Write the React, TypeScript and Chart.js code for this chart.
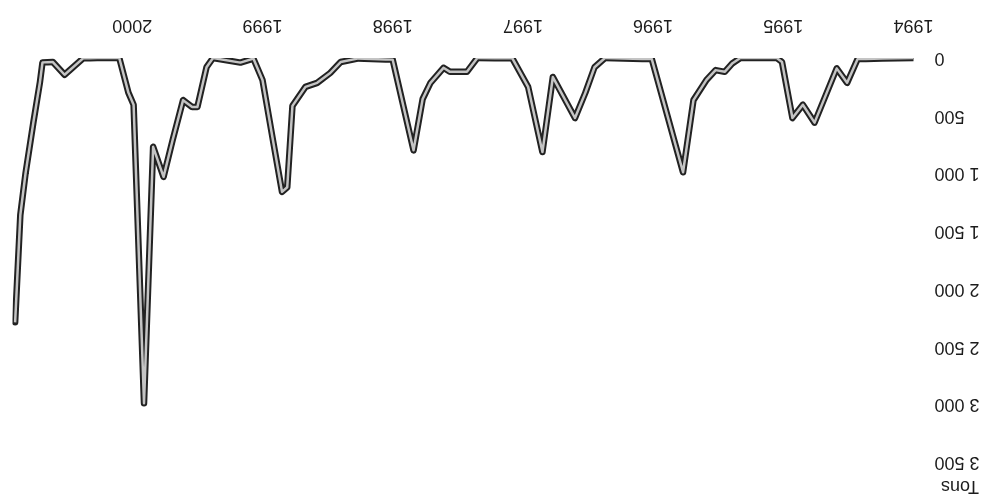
import { useEffect, useRef } from 'react';
import { Chart, registerables } from 'chart.js';

Chart.register(...registerables);

// Decimal year of each vertex of the line (Jan 1994 = 1994.0)
const pointYears = [
  1994.0, 1994.24, 1994.43, 1994.51, 1994.59, 1994.76, 1994.85, 1994.93,
  1995.01, 1995.05, 1995.33, 1995.39, 1995.45, 1995.52, 1995.59, 1995.69, 1995.77,
  1996.01, 1996.37, 1996.45, 1996.52, 1996.6, 1996.77, 1996.85, 1996.96,
  1997.08, 1997.35, 1997.43, 1997.56, 1997.61, 1997.71, 1997.77, 1997.84,
  1998.0, 1998.27, 1998.4, 1998.48, 1998.58, 1998.67, 1998.77, 1998.81, 1998.85, 1998.92,
  1999.0, 1999.07, 1999.17, 1999.38, 1999.43, 1999.5, 1999.54, 1999.61, 1999.69, 1999.76,
  1999.84, 1999.91, 1999.99, 2000.03, 2000.1, 2000.27, 2000.38, 2000.52, 2000.61, 2000.69,
  2000.71, 2000.76, 2000.82, 2000.86, 2000.9,
];

// Tons at each vertex
const pointTons = [
  0, 5, 10, 215, 90, 560, 405, 520,
  35, 0, 0, 45, 120, 105, 190, 365, 990,
  10, 0, 80, 300, 520, 165, 815, 250,
  5, 0, 120, 120, 85, 215, 355, 800,
  15, 5, 35, 130, 215, 250, 415, 1120, 1160, 710,
  190, 5, 40, 0, 80, 425, 425, 365, 710, 1030,
  770, 2990, 405, 300, 0, 0, 5, 145, 35, 40,
  215, 560, 1000, 1360, 2290,
];

const yearTicks = [1994, 1995, 1996, 1997, 1998, 1999, 2000];
const tonTicks = [0, 500, 1000, 1500, 2000, 2500, 3000, 3500];
const yAxisTitle = 'Tons';

const FONT = 'Liberation Sans, Arial, sans-serif';
const TEXT = '#1c1c1c';

function formatTons(v: number): string {
  return String(v).replace(/\B(?=(\d{3})+(?!\d))/g, ' ');
}

export default function App() {
  const ref = useRef<HTMLCanvasElement>(null);

  useEffect(() => {
    if (!ref.current) return;
    const data = pointYears.map((x, i) => ({ x, y: pointTons[i] }));
    const chart = new Chart(ref.current, {
      type: 'line',
      data: {
        datasets: [
          {
            data,
            borderColor: '#c4c4c4',
            borderWidth: 2.5,
            pointRadius: 0,
            tension: 0,
            borderJoinStyle: 'round',
            order: 0,
          },
          {
            data,
            borderColor: '#222222',
            borderWidth: 6.5,
            pointRadius: 0,
            tension: 0,
            borderJoinStyle: 'round',
            borderCapStyle: 'round',
            order: 1,
          },
        ],
      },
      options: {
        animation: false,
        responsive: true,
        maintainAspectRatio: false,
        layout: { padding: { left: 4, right: 12.5, top: 0, bottom: 0 } },
        plugins: {
          legend: { display: false },
          tooltip: { enabled: false },
          title: {
            display: true,
            text: yAxisTitle,
            align: 'start',
            color: TEXT,
            font: { family: FONT, size: 18, weight: 'normal' },
            padding: { top: 2, bottom: 13.4 },
          },
        },
        scales: {
          x: {
            type: 'linear',
            min: 1994,
            max: 2000.92,
            afterBuildTicks: (s: any) => {
              s.ticks = yearTicks.map((v) => ({ value: v }));
            },
            afterFit: (s: any) => {
              s.height = 58;
            },
            grid: { display: false, drawTicks: false },
            border: { display: false },
            ticks: {
              padding: 22,
              color: TEXT,
              font: { family: FONT, size: 18 },
              maxRotation: 0,
              autoSkip: false,
              callback: (v: any) => String(v),
            },
          },
          y: {
            type: 'linear',
            min: 0,
            max: 3500,
            afterBuildTicks: (s: any) => {
              s.ticks = tonTicks.map((v) => ({ value: v }));
            },
            afterFit: (s: any) => {
              s.width = 65.5;
            },
            grid: { display: false, drawTicks: false },
            border: { display: false },
            ticks: {
              padding: 21,
              color: TEXT,
              font: { family: FONT, size: 18 },
              callback: (v: any) => formatTons(Number(v)),
            },
          },
        },
      },
    });
    return () => chart.destroy();
  }, []);

  return (
    <div
      style={{
        position: 'fixed',
        left: 0,
        top: 0,
        width: 983,
        height: 499,
        background: '#ffffff',
        transform: 'rotate(180deg)',
      }}
    >
      <canvas ref={ref} />
    </div>
  );
}
